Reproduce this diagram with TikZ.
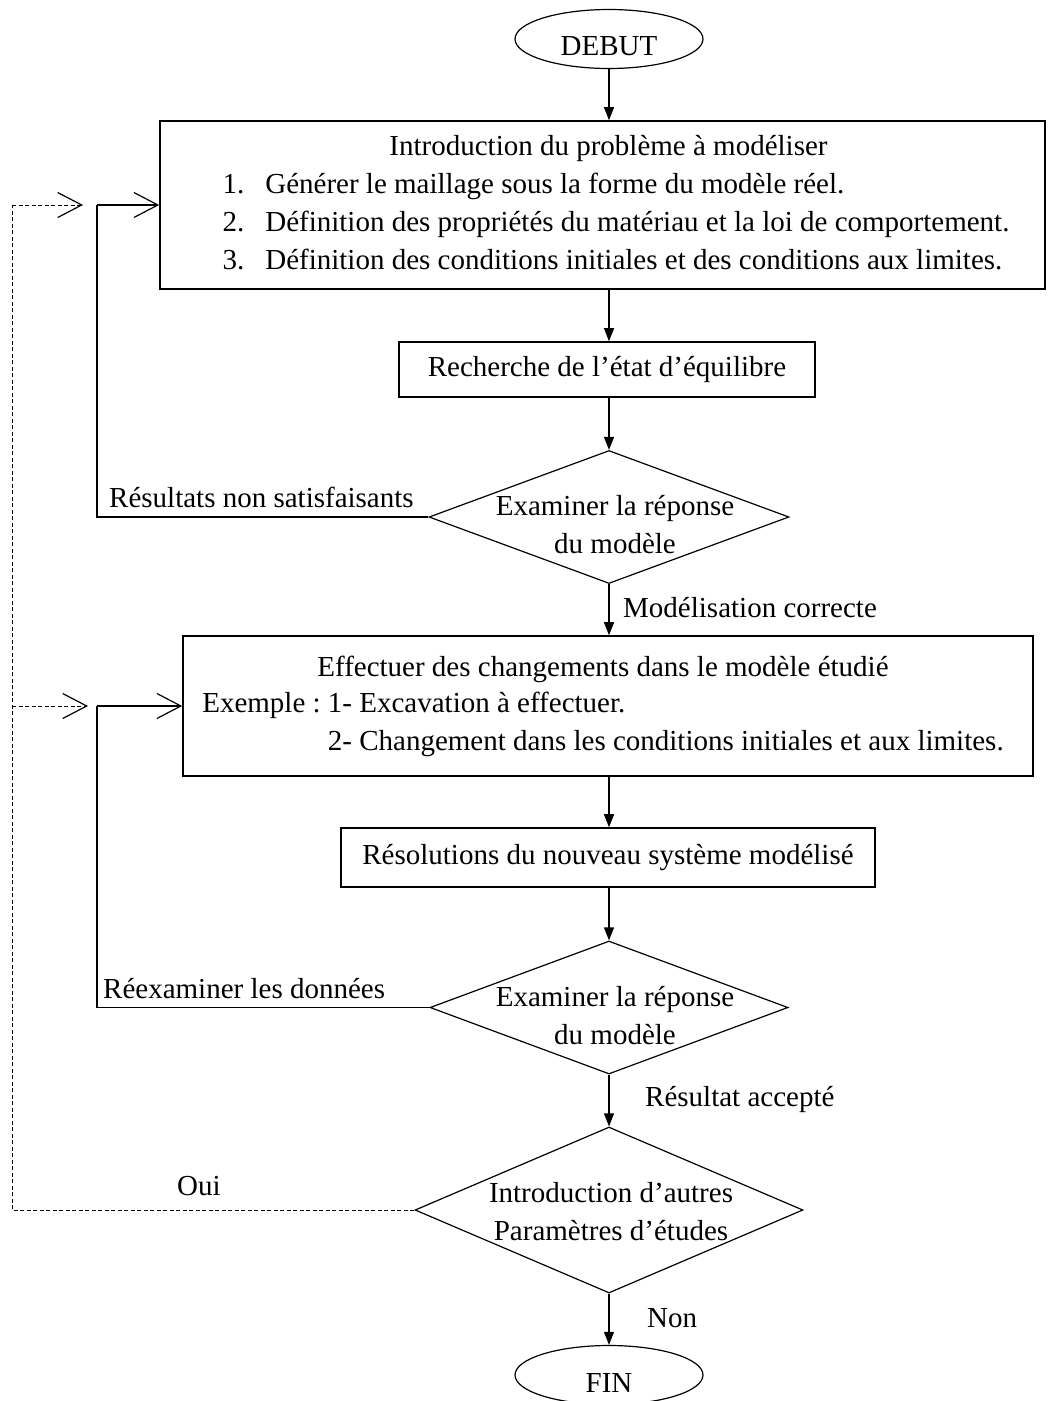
\documentclass[tikz,border=0pt]{standalone}
\usepackage{fontspec}
\setmainfont{Liberation Serif}
\usetikzlibrary{shapes.geometric,arrows.meta}

\begin{document}
\begin{tikzpicture}[x=1pt,y=-1pt,
    every node/.style={font=\fontsize{29}{38}\selectfont},
    term/.style={draw,ellipse,line width=1.2pt,minimum width=188pt,minimum height=59pt,inner sep=0pt},
    process/.style={draw,rectangle,line width=1.6pt,inner sep=0pt},
    decision/.style={draw,diamond,line width=1.2pt,inner sep=0pt},
    flow/.style={line width=1.2pt,-{Triangle[length=13pt,width=10pt]}},
    barb/.style={-{Straight Barb[length=24pt,width=25pt,line width=1.2pt]}},
    oui/.style={line width=1pt,dash pattern=on 4pt off 2.5pt}]
  \useasboundingbox (0,0) rectangle (1048,1401);
  % blocs
  \node[term] (debut) at (609,39) {\raisebox{-16.5pt}[0pt][0pt]{DEBUT}};
  \node[process,minimum width=885pt,minimum height=168pt] (intro) at (602.5,205)
    {\hspace*{27pt}\begin{tabular}{@{}l@{\hspace{21pt}}l@{}}
      \multicolumn{2}{c}{\hspace*{-15pt}Introduction du problème à modéliser}\\
      1. & Générer le maillage sous la forme du modèle réel.\\
      2. & Définition des propriétés du matériau et la loi de comportement.\\
      3. & Définition des conditions initiales et des conditions aux limites.
    \end{tabular}};
  \node[process,minimum width=416pt,minimum height=55pt] (equil) at (607,369.5) {Recherche de l’état d’équilibre};
  \node[decision,minimum width=360pt,minimum height=133pt] (rep1) at (609,517) {};
  \node[align=center] (rep1txt) at ([xshift=6pt,yshift=-8pt]rep1) {Examiner la réponse\\du modèle};
  \node[process,minimum width=850pt,minimum height=140pt] (change) at (608,706)
    {\begin{tabular}{@{}l@{}l@{}}
      \multicolumn{2}{c}{Effectuer des changements dans le modèle étudié}\\[-2pt]
      Exemple : & \ 1- Excavation à effectuer.\\
      & \ 2- Changement dans les conditions initiales et aux limites.
    \end{tabular}\hspace*{10pt}};
  \node[process,minimum width=534pt,minimum height=59pt] (resol) at (608,857.5) {Résolutions du nouveau système modélisé};
  \node[decision,minimum width=358pt,minimum height=133pt] (rep2) at (609,1007.5) {};
  \node[align=center] (rep2txt) at ([xshift=6pt,yshift=-8pt]rep2) {Examiner la réponse\\du modèle};
  \node[decision,minimum width=388pt,minimum height=166pt] (autres) at (609,1210) {};
  \node[align=center] (autrestxt) at ([xshift=2pt,yshift=-2pt]autres) {Introduction d’autres\\Paramètres d’études};
  \node[term] (fin) at (609,1375) {\raisebox{-17pt}[0pt][0pt]{FIN}};
  % liaisons
  \draw[flow] (debut) -- (debut |- intro.north);
  \draw[flow] (debut |- intro.south) -- (debut |- equil.north);
  \draw[flow] (debut |- equil.south) -- (rep1);
  \draw[flow] (rep1) -- (debut |- change.north);
  \draw[flow] (debut |- change.south) -- (debut |- resol.north);
  \draw[flow] (debut |- resol.south) -- (rep2);
  \draw[flow] (rep2) -- (autres);
  \draw[flow] (autres) -- (fin);
  % retours
  \coordinate (coin1) at (97,205);
  \coordinate (coin2) at (97,706);
  \draw[line width=1.2pt] (rep1.west) -| (coin1);
  \draw[line width=1.2pt,barb] (coin1) -- (intro.west);
  \draw[line width=1.2pt] (rep2.west) -| (coin2);
  \draw[line width=1.2pt,barb] (coin2) -- (change.west);
  \coordinate (haut1) at (12,205);
  \coordinate (pointe1) at (83,205);
  \coordinate (haut2) at (12,706);
  \coordinate (pointe2) at (88,706);
  \draw[oui] (autres.west) -| (haut1);
  \draw[oui,barb] (haut1) -- (pointe1);
  \draw[oui,barb] (haut2) -- (pointe2);
  % etiquettes
  \node[anchor=base west,inner sep=0pt] (nonsat) at (109,507) {Résultats non satisfaisants};
  \node[anchor=base west,inner sep=0pt] (correct) at (623,617) {Modélisation correcte};
  \node[anchor=base west,inner sep=0pt] (reexam) at (103,998) {Réexaminer les données};
  \node[anchor=base west,inner sep=0pt] (accepte) at (645,1106) {Résultat accepté};
  \node[anchor=base west,inner sep=0pt] (oui) at (177,1195) {Oui};
  \node[anchor=base west,inner sep=0pt] (non) at (647,1327) {Non};
\end{tikzpicture}
\end{document}
